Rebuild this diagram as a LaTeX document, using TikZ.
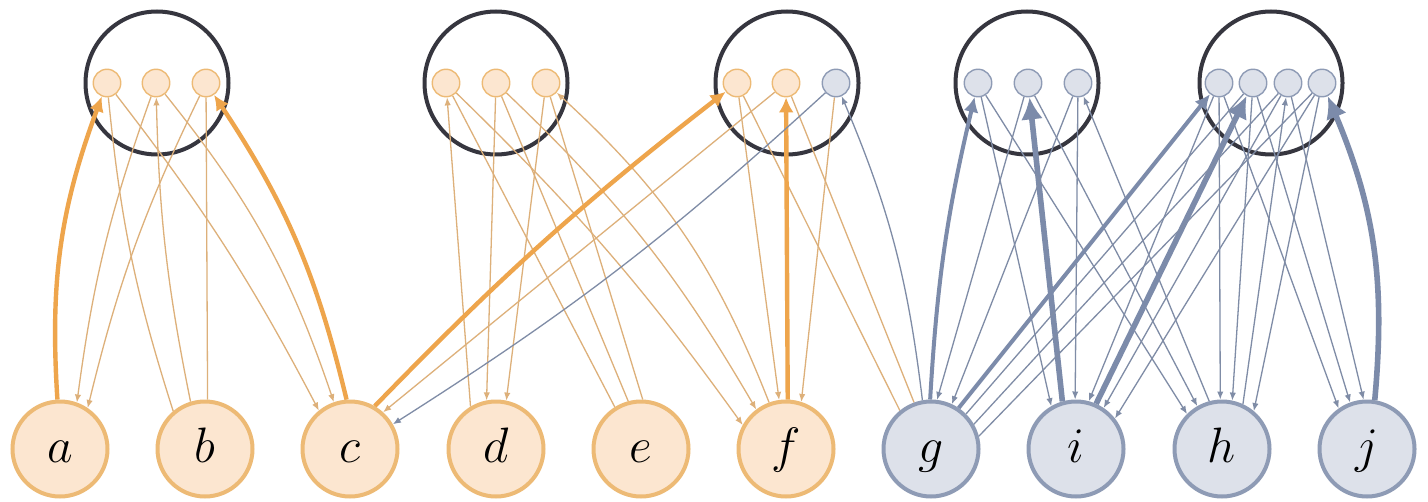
\documentclass[tikz,border=0pt]{standalone}
\usetikzlibrary{arrows.meta}
\pgfdeclarelayer{ringlayer}
\pgfdeclarelayer{edgelayer}
\pgfsetlayers{ringlayer,edgelayer,main}
\definecolor{ofill}{HTML}{FCE6D0}
\definecolor{obord}{HTML}{EDBA75}
\definecolor{othick}{HTML}{EEA54C}
\definecolor{oline}{HTML}{DDB07A}
\definecolor{bfill}{HTML}{DDE1EA}
\definecolor{bbord}{HTML}{8E9BB5}
\definecolor{bthick}{HTML}{7C8BAA}
\definecolor{bline}{HTML}{7F8CA6}
\definecolor{ring}{HTML}{36363F}
\tikzset{
  botnode/.style={circle, minimum size=47.5pt, inner sep=0pt, line width=2pt,
    font=\fontsize{31}{31}\selectfont, text height=21pt, text depth=7.5pt},
  onode/.style={botnode, draw=obord, fill=ofill},
  bnode/.style={botnode, draw=bbord, fill=bfill},
  grp/.style={circle, minimum size=71.5pt, inner sep=0pt, draw=ring, line width=2pt},
  smallnode/.style={circle, minimum size=13.75pt, inner sep=0pt, line width=0.7pt},
  so/.style={smallnode, draw=obord, fill=ofill},
  sb/.style={smallnode, draw=bbord, fill=bfill},
  tnO/.style={draw=oline, line width=0.65pt},
  tnB/.style={draw=bline, line width=0.65pt},
  arr/.style={-{Latex[length=4pt,width=3.2pt]}},
  tkO/.style={draw=othick, line width=2.2pt, -{Latex[length=7.5pt,width=7.5pt]}},
  tkB/.style={draw=bthick, line width=2pt, -{Latex[length=7.5pt,width=7.5pt]}},
  tkBB/.style={draw=bthick, line width=2.8pt, -{Latex[length=11pt,width=11pt]}},
}
\begin{document}
\begin{tikzpicture}[x=0.5pt,y=0.5pt]
\useasboundingbox (0,0) rectangle (1428,-502);
\begin{pgfonlayer}{ringlayer}
\fill[white] (0,0) rectangle (1428,-502);
\node[grp] (K1) at (157,-83) {};
\node[grp] (K2) at (496,-83) {};
\node[grp] (K3) at (787,-83) {};
\node[grp] (K4) at (1027,-83) {};
\node[grp] (K5) at (1271,-83) {};
\end{pgfonlayer}
% bottom nodes
\node[onode] (a) at (60,-449) {$a$};
\node[onode] (b) at (205,-449) {$b$};
\node[onode] (c) at (350,-449) {$c$};
\node[onode] (d) at (496,-449) {$d$};
\node[onode] (e) at (641,-449) {$e$};
\node[onode] (f) at (786,-449) {$f$};
\node[bnode] (g) at (931,-449) {$g$};
\node[bnode] (i) at (1076,-449) {$i$};
\node[bnode] (h) at (1222,-449) {$h$};
\node[bnode] (j) at (1367,-449) {$j$};
% small nodes
\node[so] (p11) at (107,-83) {};
\node[so] (p12) at (156,-83) {};
\node[so] (p13) at (206,-83) {};
\node[so] (p21) at (446,-83) {};
\node[so] (p22) at (496,-83) {};
\node[so] (p23) at (546,-83) {};
\node[so] (p31) at (737,-83) {};
\node[so] (p32) at (786,-83) {};
\node[sb] (p33) at (836,-83) {};
\node[sb] (p41) at (978,-83) {};
\node[sb] (p42) at (1028,-83) {};
\node[sb] (p43) at (1078,-83) {};
\node[sb] (p51) at (1219,-83) {};
\node[sb] (p52) at (1253,-83) {};
\node[sb] (p53) at (1288,-83) {};
\node[sb] (p54) at (1322,-83) {};
\begin{pgfonlayer}{edgelayer}
% circle 1
\draw[tkO] (a.93) to[bend left=12] (p11);
\draw[tkO] (c.94) to[bend right=10] (p13);
\draw[tnO] (p11) to[bend right=6] (b.130);
\draw[tnO,arr] (b.107) to[bend left=5] (p12);
\draw[tnO] (p13) -- (b.87);
\draw[tnO,arr] (p12) to[bend right=6] (a.70);
\draw[tnO,arr] (p13) to[bend right=6] (a.56);
\draw[tnO,arr] (p11) to[bend left=5] (c.129);
\draw[tnO,arr] (p12) to[bend left=10] (c.109);
% circle 2
\draw[tnO,arr] (d.121) -- (p21);
\draw[tnO,arr] (p22) -- (d.101);
\draw[tnO,arr] (p23) -- (d.78);
\draw[tnO] (p21) -- (e.122);
\draw[tnO] (p22) -- (e.105);
\draw[tnO] (p23) -- (e.88);
\draw[tnO,arr] (p21) to[bend left=5] (f.151);
\draw[tnO,arr] (p22) to[bend left=8] (f.127);
\draw[tnO,arr] (f.110) to[bend right=13] (p23);
% circle 3
\draw[tkO] (c.60) to[bend left=4] (p31);
\draw[tnO,arr] (p31) -- (f.98);
\draw[tnO] (p31) -- (g.129);
\draw[tkO] (f.88) -- (p32);
\draw[tnO,arr] (p32) -- (c.48);
\draw[tnO] (p32) -- (g.110);
\draw[tnB,arr] (p33) to[bend left=5] (c.30);
\draw[tnO,arr] (p33) -- (f.72);
\draw[tnB,arr] (g.100) to[bend right=8] (p33);
% circle 4
\draw[tkB] (g.91) to[bend left=5] (p41);
\draw[tkBB] (i.106) -- (p42);
\draw[tnB,arr] (h.105) -- (p43);
\draw[tnB,arr] (p41) -- (i.120);
\draw[tnB,arr] (p41) -- (h.135);
\draw[tnB,arr] (p42) -- (g.83);
\draw[tnB,arr] (p42) -- (h.120);
\draw[tnB,arr] (p43) -- (g.65);
\draw[tnB,arr] (p43) -- (i.91);
% circle 5
\draw[tkB] (g.56) -- (p51);
\draw[tkBB] (i.66) -- (p52);
\draw[tnB,arr] (h.65) -- (p53);
\draw[tkBB] (j.81) to[bend right=14] (p54);
\draw[tnB,arr] (p51) -- (i.75);
\draw[tnB,arr] (p51) -- (h.92);
\draw[tnB,arr] (p51) -- (j.125);
\draw[tnB] (p52) -- (g.45);
\draw[tnB,arr] (p52) -- (h.78);
\draw[tnB,arr] (p52) -- (j.110);
\draw[tnB] (p53) -- (g.30);
\draw[tnB,arr] (p53) -- (i.56);
\draw[tnB,arr] (p53) -- (j.94);
\draw[tnB] (p54) -- (g.15);
\draw[tnB,arr] (p54) -- (i.38);
\draw[tnB,arr] (p54) -- (h.50);
\end{pgfonlayer}
\end{tikzpicture}
\end{document}
